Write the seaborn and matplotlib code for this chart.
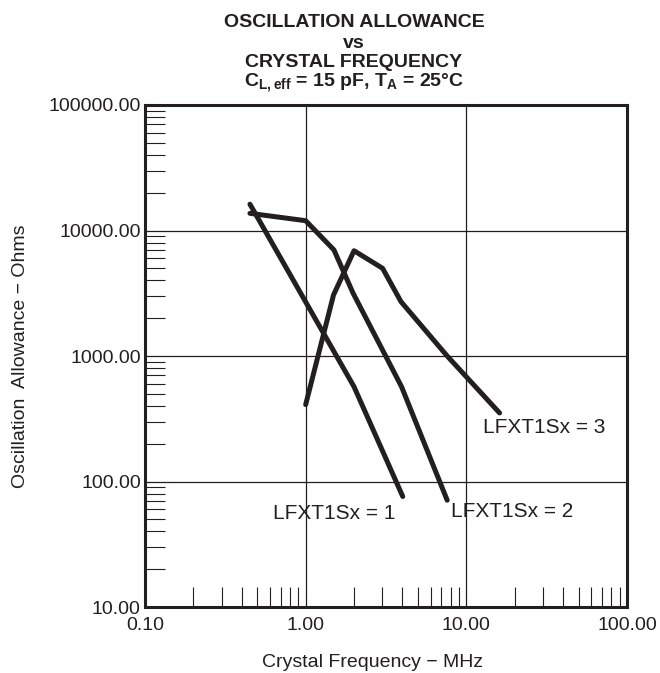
import pandas as pd
import matplotlib.pyplot as plt
import seaborn as sns
from matplotlib.ticker import LogLocator, FuncFormatter, NullFormatter

# curve data (MHz, Ohms)
freq_1 = [0.45, 2.0, 4.02]
allow_1 = [16200, 569, 76]

freq_2 = [0.45, 1.0, 1.5, 1.97, 3.95, 7.6]
allow_2 = [13700, 11970, 7000, 3180, 570, 71]

freq_3 = [1.0, 1.49, 2.0, 3.01, 3.92, 7.6, 16.1]
allow_3 = [410, 3060, 6900, 5000, 2710, 1000, 352]

curve_names = ['LFXT1Sx = 1', 'LFXT1Sx = 2', 'LFXT1Sx = 3']
# label anchor (left, baseline) in data coords
label_x = [0.622, 8.06, 12.77]
label_y = [50.2, 52.1, 243]

ink = '#231f20'

sns.set_style('white')
plt.rcParams['font.family'] = ['Liberation Sans', 'DejaVu Sans']
plt.rcParams['mathtext.fontset'] = 'custom'
plt.rcParams['mathtext.rm'] = 'Liberation Sans'
plt.rcParams['mathtext.bf'] = 'Liberation Sans:bold'

# long table for seaborn
df = pd.concat([
    pd.DataFrame({'freq': freq_1, 'allow': allow_1, 'curve': curve_names[0]}),
    pd.DataFrame({'freq': freq_2, 'allow': allow_2, 'curve': curve_names[1]}),
    pd.DataFrame({'freq': freq_3, 'allow': allow_3, 'curve': curve_names[2]}),
], ignore_index=True)

fig = plt.figure(figsize=(6.6, 6.73), dpi=100)
ax = fig.add_axes([0.2197, 0.098, 0.7303, 0.746])

sns.lineplot(data=df, x='freq', y='allow', units='curve', estimator=None,
             color=ink, linewidth=3.6, ax=ax, legend=False)

ax.set_xscale('log')
ax.set_yscale('log')
ax.set_xlim(0.1, 100)
ax.set_ylim(10, 100000)

fmt = FuncFormatter(lambda v, p: f'{v:.2f}')
for axis in (ax.xaxis, ax.yaxis):
    axis.set_major_locator(LogLocator(base=10, numticks=10))
    axis.set_minor_locator(LogLocator(base=10, subs=range(2, 10), numticks=10))
    axis.set_major_formatter(fmt)
    axis.set_minor_formatter(NullFormatter())

ax.grid(True, which='major', color=ink, linewidth=0.9)
ax.tick_params(which='major', length=0, labelsize=14, colors=ink)
ax.tick_params(axis='x', which='major', pad=7)
ax.tick_params(axis='y', which='major', pad=3)
ax.tick_params(which='minor', direction='in', length=14.4, width=0.8, color=ink,
               left=True, bottom=True, top=False, right=False)

for s in ax.spines.values():
    s.set_color(ink)
    s.set_linewidth(2.2)

ax.set_xlabel('Crystal Frequency \u2212 MHz', fontsize=14, color=ink)
ax.xaxis.set_label_coords(0.473, -0.094)
ax.set_ylabel('Oscillation  Allowance \u2212 Ohms', fontsize=14, color=ink, labelpad=14)

for name, lx, ly in zip(curve_names, label_x, label_y):
    ax.text(lx, ly, name, fontsize=15, color=ink, ha='left', va='baseline')

# four-line bold title
tx = 354 / 660
title_lines = ['OSCILLATION ALLOWANCE', 'vs', 'CRYSTAL FREQUENCY',
               'C$_{\\mathbf{L,eff}}$ = 15 pF, T$_{\\mathbf{A}}$ = 25\u00b0C']
title_base = [27, 48, 67, 87]
for line, b in zip(title_lines, title_base):
    fig.text(tx, 1 - b / 673, line, fontsize=14, fontweight='bold', color=ink,
             ha='center', va='baseline')

plt.savefig('out.png', dpi=100)
